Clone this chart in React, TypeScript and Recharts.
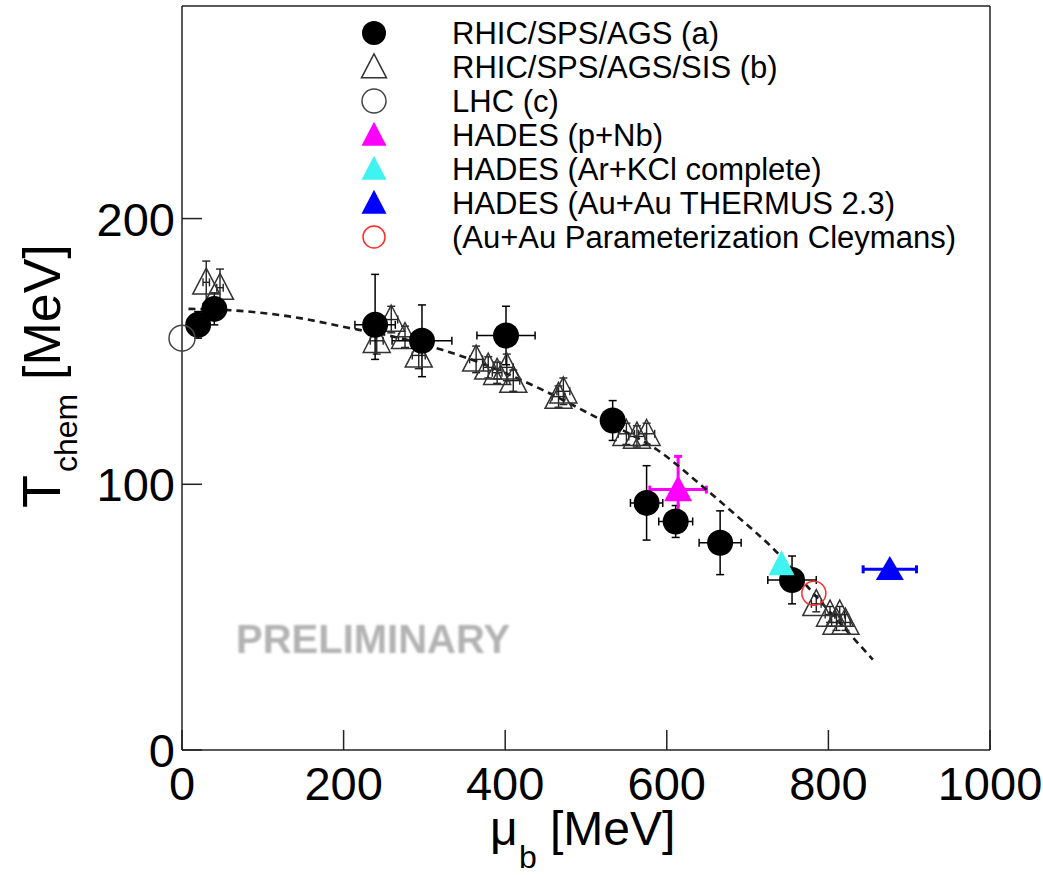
import { ScatterChart, Scatter, XAxis, YAxis, ErrorBar } from "recharts"

const W = 1043
const H = 875
const FONT = "'Liberation Sans', Arial, Helvetica, sans-serif"

// dashed parameterization curve, (mu_b, T) pairs
const curveMu = [8, 60, 137, 204, 270, 323, 353, 443, 514, 588, 645, 687, 731, 790, 855]
const curveT = [166, 165.5, 163, 159, 155, 150.5, 147.5, 136, 125, 113, 99, 88, 76, 56, 34]

// (a) RHIC/SPS/AGS
const muA = [20, 40, 239, 297, 401, 533, 575, 611, 666, 755]
const tA = [160, 166, 160, 154, 156, 124, 93, 86, 78, 64]
const exA = [5, 6, 25, 37, 36, 12, 20, 21, 26, 30]
const eyA: (number | number[])[] = [5, 6, [13, 19], 13.5, 11, 7.5, 14, 6, 12, 9]

// (b) RHIC/SPS/AGS/SIS
const muB = [30, 47, 241, 259, 276, 293, 364, 379, 390, 402, 410, 466, 472, 550, 563, 575, 785, 802, 810, 814, 821]
const tB = [176, 174, 154, 162, 155.5, 148.5, 147, 144, 142, 144, 139, 133, 135, 119, 118, 119, 55, 51, 48, 51, 48]
const exB = [4, 4, 8, 8, 8, 8, 8, 6, 6, 8, 8, 8, 8, 10, 10, 10, 6, 6, 6, 6, 6]
const eyB = [8, 7, 5, 5, 4, 5, 5, 4, 4, 5, 4, 4, 5, 4, 4, 4, 3, 3, 3, 3, 3]

// (c) LHC
const muC = [0]
const tC = [155]

// HADES points
const muPNb = [614]
const tPNb = [98]
const exPNb = [35]
const eyPNb = [[10, 12.5]]

const muArKCl = [742]
const tArKCl = [70]

const muAuAu = [876]
const tAuAu = [68]
const exAuAu = [33]

const muCley = [782]
const tCley = [59]

const xTicks = [0, 200, 400, 600, 800, 1000]
const yTicks = [0, 100, 200]

const legendLabels = [
  "RHIC/SPS/AGS (a)",
  "RHIC/SPS/AGS/SIS (b)",
  "LHC (c)",
  "HADES (p+Nb)",
  "HADES (Ar+KCl complete)",
  "HADES (Au+Au THERMUS 2.3)",
  "(Au+Au Parameterization Cleymans)",
]

const zip = (mu: number[], t: number[], ex?: any[], ey?: any[]) =>
  mu.map((m, i) => ({ mu: m, t: t[i], ex: ex ? ex[i] : 0, ey: ey ? ey[i] : 0 }))

const curveData = zip(curveMu, curveT)
const dataA = zip(muA, tA, exA, eyA)
const dataB = zip(muB, tB, exB, eyB)
const dataC = zip(muC, tC)
const dataPNb = zip(muPNb, tPNb, exPNb, eyPNb)
const dataArKCl = zip(muArKCl, tArKCl)
const dataAuAu = zip(muAuAu, tAuAu, exAuAu)
const dataCley = zip(muCley, tCley)

// marker drawing helpers
const filledCircle = (cx: number, cy: number, r = 13) => <circle cx={cx} cy={cy} r={r} fill="#000" />
const openCircle = (cx: number, cy: number, color: string, r = 13) => (
  <circle cx={cx} cy={cy} r={r} fill="none" stroke={color} strokeWidth={1.5} />
)
const triPath = (cx: number, cy: number, w: number, h: number) =>
  `M${cx},${cy - h * 0.55} L${cx + w / 2},${cy + h * 0.45} L${cx - w / 2},${cy + h * 0.45} Z`
const openTriangle = (cx: number, cy: number, w = 27, h = 26) => (
  <path d={triPath(cx, cy, w, h)} fill="none" stroke="#333" strokeWidth={1.5} strokeLinejoin="miter" />
)
const filledTriangle = (cx: number, cy: number, color: string, w = 28, h = 26) => (
  <path d={triPath(cx, cy, w, h)} fill={color} stroke="none" />
)

const MAGENTA = "#ff00ff"
const CYAN = "#3ff3f0"
const BLUE = "#0000ff"
const RED = "#ff2a2a"

const legendMarkers = [
  (x: number, y: number) => filledCircle(x, y, 12),
  (x: number, y: number) => openTriangle(x, y, 25, 24),
  (x: number, y: number) => openCircle(x, y, "#444", 12),
  (x: number, y: number) => filledTriangle(x, y, MAGENTA, 25, 24),
  (x: number, y: number) => filledTriangle(x, y, CYAN, 25, 24),
  (x: number, y: number) => filledTriangle(x, y, BLUE, 25, 24),
  (x: number, y: number) => openCircle(x, y, RED, 11),
]

const frame = { stroke: "#222", strokeWidth: 1.5 }

const BottomTick = ({ x, y, payload }: any) => (
  <g>
    <line x1={x} x2={x} y1={y} y2={y - 20} stroke="#222" strokeWidth={1.5} />
    <text x={x} y={y + 50} textAnchor="middle" fontSize={47} fontFamily={FONT} fill="#000">
      {payload.value}
    </text>
  </g>
)
const TopTick = ({ x, y }: any) => <line x1={x} x2={x} y1={y} y2={y + 12} stroke="#222" strokeWidth={1.5} />
const LeftTick = ({ x, y, payload }: any) => (
  <g>
    <line x1={x} x2={x + 20} y1={y} y2={y} stroke="#222" strokeWidth={1.5} />
    <text x={x - 7} y={y + 17} textAnchor="end" fontSize={47} fontFamily={FONT} fill="#000">
      {payload.value}
    </text>
  </g>
)
const RightTick = ({ x, y }: any) => <line x1={x} x2={x - 20} y1={y} y2={y} stroke="#222" strokeWidth={1.5} />

export default function App() {
  return (
    <div style={{ position: "absolute", left: 0, top: 0, width: W, height: H, background: "#fff" }}>
      <ScatterChart width={W} height={H} margin={{ top: 5, right: 52, bottom: 124, left: 181 }}>
        <XAxis
          xAxisId="bottom"
          orientation="bottom"
          type="number"
          dataKey="mu"
          domain={[0, 1000]}
          ticks={xTicks}
          interval={0}
          height={1}
          tickSize={0}
          tickMargin={0}
          tickLine={false}
          axisLine={frame}
          tick={<BottomTick />}
        />
        <XAxis
          xAxisId="top"
          orientation="top"
          type="number"
          dataKey="mu"
          domain={[0, 1000]}
          ticks={xTicks}
          interval={0}
          height={1}
          tickSize={0}
          tickMargin={0}
          tickLine={false}
          axisLine={frame}
          tick={<TopTick />}
        />
        <YAxis
          yAxisId="left"
          orientation="left"
          type="number"
          dataKey="t"
          domain={[0, 280]}
          ticks={yTicks}
          interval={0}
          width={1}
          tickSize={0}
          tickMargin={0}
          tickLine={false}
          axisLine={frame}
          tick={<LeftTick />}
        />
        <YAxis
          yAxisId="right"
          orientation="right"
          type="number"
          dataKey="t"
          domain={[0, 280]}
          ticks={yTicks}
          interval={0}
          width={1}
          tickSize={0}
          tickMargin={0}
          tickLine={false}
          axisLine={frame}
          tick={<RightTick />}
        />

        <Scatter
          xAxisId="bottom"
          yAxisId="left"
          data={curveData}
          line={{ stroke: "#1a1a1a", strokeWidth: 2.6, strokeDasharray: "7 5" }}
          lineJointType="monotoneX"
          shape={() => <g />}
          isAnimationActive={false}
        />

        <Scatter
          xAxisId="bottom"
          yAxisId="left"
          data={dataB}
          shape={(p: any) => openTriangle(p.cx, p.cy)}
          isAnimationActive={false}
        >
          <ErrorBar dataKey="ex" direction="x" width={4} stroke="#222" strokeWidth={1.4} isAnimationActive={false} />
          <ErrorBar dataKey="ey" direction="y" width={4} stroke="#222" strokeWidth={1.4} isAnimationActive={false} />
        </Scatter>

        <Scatter
          xAxisId="bottom"
          yAxisId="left"
          data={dataA}
          shape={(p: any) => filledCircle(p.cx, p.cy)}
          isAnimationActive={false}
        >
          <ErrorBar dataKey="ex" direction="x" width={4} stroke="#000" strokeWidth={1.5} isAnimationActive={false} />
          <ErrorBar dataKey="ey" direction="y" width={4} stroke="#000" strokeWidth={1.5} isAnimationActive={false} />
        </Scatter>

        <Scatter
          xAxisId="bottom"
          yAxisId="left"
          data={dataC}
          shape={(p: any) => openCircle(p.cx, p.cy, "#444")}
          isAnimationActive={false}
        />

        <Scatter
          xAxisId="bottom"
          yAxisId="left"
          data={dataPNb}
          shape={(p: any) => filledTriangle(p.cx, p.cy, MAGENTA)}
          isAnimationActive={false}
        >
          <ErrorBar dataKey="ex" direction="x" width={4} stroke={MAGENTA} strokeWidth={3} isAnimationActive={false} />
          <ErrorBar dataKey="ey" direction="y" width={4} stroke={MAGENTA} strokeWidth={3} isAnimationActive={false} />
        </Scatter>

        <Scatter
          xAxisId="bottom"
          yAxisId="left"
          data={dataArKCl}
          shape={(p: any) => filledTriangle(p.cx, p.cy, CYAN, 26, 25)}
          isAnimationActive={false}
        />

        <Scatter
          xAxisId="bottom"
          yAxisId="left"
          data={dataAuAu}
          shape={(p: any) => filledTriangle(p.cx, p.cy, BLUE, 28, 24)}
          isAnimationActive={false}
        >
          <ErrorBar dataKey="ex" direction="x" width={4} stroke={BLUE} strokeWidth={3} isAnimationActive={false} />
        </Scatter>

        <Scatter
          xAxisId="bottom"
          yAxisId="left"
          data={dataCley}
          shape={(p: any) => openCircle(p.cx, p.cy, RED, 12)}
          isAnimationActive={false}
        />
      </ScatterChart>

      <svg
        width={W}
        height={H}
        style={{ position: "absolute", left: 0, top: 0, pointerEvents: "none" }}
        fontFamily={FONT}
      >
        <defs>
          <filter id="soft" x="-5%" y="-20%" width="110%" height="140%">
            <feGaussianBlur stdDeviation="0.8" />
          </filter>
        </defs>

        {legendLabels.map((label, i) => {
          const y = 33 + i * 34
          return (
            <g key={label}>
              {legendMarkers[i](374, y)}
              <text x={452} y={y + 11} fontSize={31} fill="#000">
                {label}
              </text>
            </g>
          )
        })}

        <text x={236} y={653} fontSize={40} fontWeight="bold" fill="#b3b3b3" filter="url(#soft)">
          PRELIMINARY
        </text>

        {/* x axis title: mu_b [MeV] */}
        <text x={490} y={845} fontSize={48} fill="#000">
          μ
        </text>
        <text x={519} y={868} fontSize={32} fill="#000">
          b
        </text>
        <text x={550} y={845} fontSize={48} fill="#000">
          [MeV]
        </text>

        {/* y axis title: T_chem [MeV] */}
        <g transform="translate(60,508) rotate(-90)">
          <text x={0} y={0} fontSize={54} fill="#000">
            T
          </text>
          <text x={36} y={17} fontSize={32} fill="#000">
            chem
          </text>
          <text x={128} y={0} fontSize={52} fill="#000">
            [MeV]
          </text>
        </g>
      </svg>
    </div>
  )
}
